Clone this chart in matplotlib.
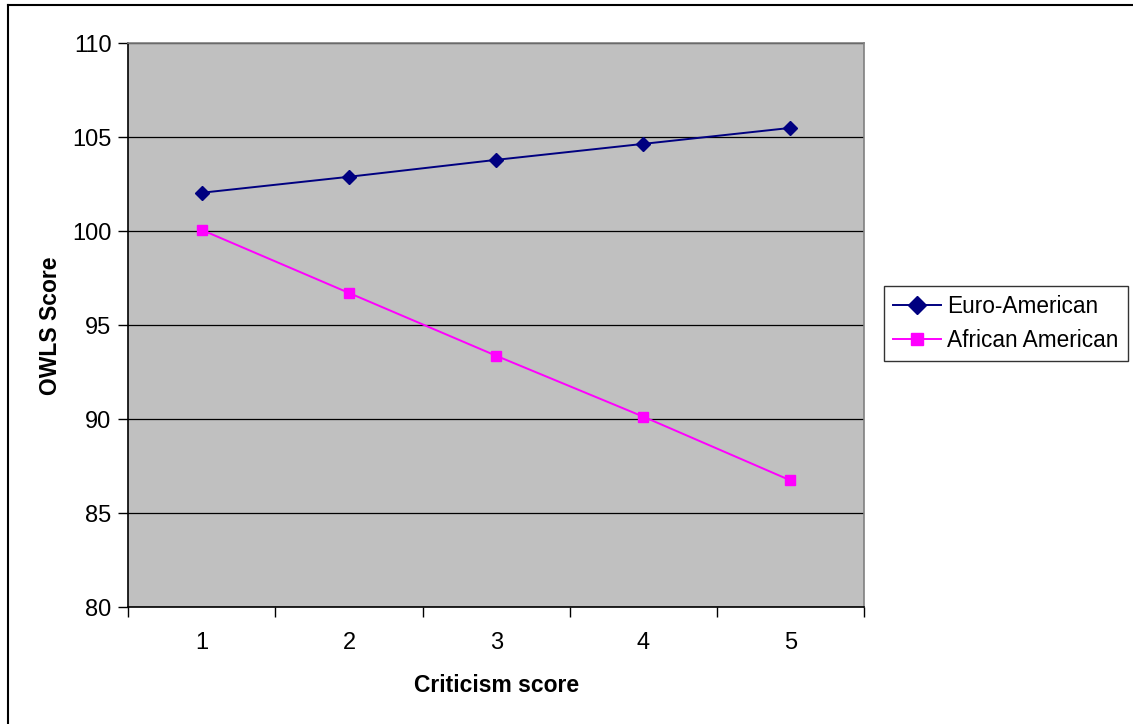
import matplotlib
matplotlib.use("Agg")
import matplotlib.pyplot as plt
from matplotlib.lines import Line2D

plt.rcParams['font.family'] = ['Liberation Sans', 'DejaVu Sans']

categories = [1, 2, 3, 4, 5]
euro_american = [102.05, 102.9, 103.8, 104.65, 105.5]
african_american = [100.07, 96.72, 93.38, 90.14, 86.75]
y_ticks = [80, 85, 90, 95, 100, 105, 110]

fig = plt.figure(figsize=(11.33, 7.24), dpi=100)
ax = fig.add_axes([0.1132, 0.1612, 0.6494, 0.779])
ax.set_facecolor('#C0C0C0')

x = list(range(1, len(categories) + 1))
ax.plot(x, euro_american, color='#000080', marker='D', markersize=7.5,
        linewidth=1.4, label='Euro-American', zorder=3)
ax.plot(x, african_american, color='#FF00FF', marker='s', markersize=7.5,
        linewidth=1.4, label='African American', zorder=3)

ax.set_xlim(0.5, len(categories) + 0.5)
ax.set_ylim(80, 110)
ax.set_yticks(y_ticks)
ax.set_yticklabels([str(v) for v in y_ticks], fontsize=17)
ax.yaxis.grid(True, color='#000000', linewidth=0.9)
ax.set_axisbelow(True)

ax.set_xticks([i + 0.5 for i in range(0, len(categories) + 1)])
ax.set_xticklabels([])
ax.set_xticks(x, minor=True)
ax.set_xticklabels([str(c) for c in categories], minor=True, fontsize=17)
ax.tick_params(axis='x', which='minor', length=0, pad=18)
ax.tick_params(axis='x', which='major', length=7, width=1, direction='out')
ax.tick_params(axis='y', length=7, width=1, direction='out', pad=5)

for s in ['top', 'right']:
    ax.spines[s].set_color('#808080')
    ax.spines[s].set_linewidth(1.2)
for s in ['left', 'bottom']:
    ax.spines[s].set_color('#000000')
    ax.spines[s].set_linewidth(1.2)

ax.set_xlabel('Criticism score', fontsize=16.5, fontweight='bold', labelpad=14)
ax.set_ylabel('OWLS Score', fontsize=16.5, fontweight='bold', labelpad=7)

leg = fig.legend(loc='upper left', bbox_to_anchor=(884 / 1133, 1 - 286 / 724),
                 fontsize=16.3, frameon=True, fancybox=False, edgecolor='#000000',
                 handlelength=2.1, handletextpad=0.3, borderpad=0.4,
                 labelspacing=0.5, borderaxespad=0, markerscale=1.2)
leg.get_frame().set_linewidth(1.0)

# outer chart border
fig.add_artist(Line2D([8 / 1133, 8 / 1133], [0, 1 - 5 / 724], transform=fig.transFigure,
                      color='#000000', linewidth=1.5))
fig.add_artist(Line2D([8 / 1133, 1], [1 - 5 / 724, 1 - 5 / 724], transform=fig.transFigure,
                      color='#000000', linewidth=1.5))

fig.savefig('out.png', dpi=100, facecolor='white')
